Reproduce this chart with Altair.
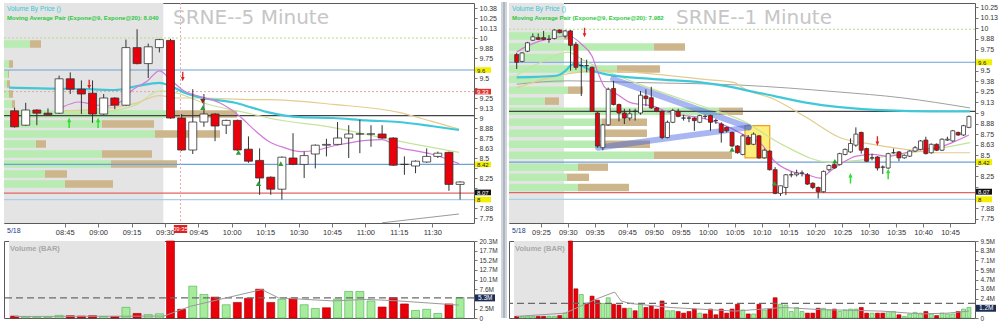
import altair as alt
import pandas as pd

FONT = "Liberation Sans"

# ============ LEFT PANEL : SRNE 5 minute ============
L_title = "SRNE--5 Minute"
L_legend = "Moving Average Pair (Expone@9, Expone@20): 8.040"
L_times = ("08:20 08:25 08:30 08:35 08:40 08:45 08:50 08:55 09:00 09:05 09:10 09:15 09:20 09:25 "
           "09:30 09:35 09:40 09:45 09:50 09:55 10:00 10:05 10:10 10:15 10:20 10:25 10:30 10:35 "
           "10:40 10:45 10:50 10:55 11:00 11:05 11:10 11:15 11:20 11:25 11:30 11:35 11:40").split()
L_open = [9.09, 8.91, 9.10, 9.06, 9.06, 9.49, 9.36, 9.31, 9.05, 9.25,
          9.16, 9.88, 9.68, 9.88, 9.97, 9.00, 8.60, 8.95, 9.05, 8.91,
          8.97, 8.61, 8.47, 8.26, 8.11, 8.50, 8.42, 8.55, 8.66, 8.67,
          8.75, 8.80, 8.80, 8.80, 8.75, 8.42, 8.40, 8.45, 8.52, 8.57, 8.17]
L_high = [9.13, 9.19, 9.11, 9.12, 9.53, 9.57, 9.47, 9.47, 9.30, 9.26,
          9.98, 10.11, 9.93, 9.99, 9.99, 9.05, 9.36, 9.30, 9.06, 8.98,
          8.98, 8.77, 8.62, 8.27, 8.52, 8.81, 8.58, 8.67, 8.74, 8.95,
          8.91, 8.98, 8.91, 8.91, 8.76, 8.52, 8.47, 8.62, 8.58, 8.58, 8.21]
L_low = [8.88, 8.90, 8.91, 9.03, 9.05, 9.30, 9.05, 8.94, 9.04, 9.11,
         9.15, 9.67, 9.50, 9.82, 8.99, 8.59, 8.55, 8.89, 8.71, 8.80,
         8.59, 8.44, 8.04, 8.04, 7.98, 8.41, 8.25, 8.37, 8.52, 8.66,
         8.50, 8.56, 8.64, 8.74, 8.40, 8.29, 8.31, 8.44, 8.50, 8.09, 7.98]
L_close = [8.89, 9.10, 9.06, 9.04, 9.49, 9.36, 9.30, 9.05, 9.25, 9.16,
           9.88, 9.68, 9.89, 9.98, 9.00, 8.60, 8.95, 9.05, 8.90, 8.97,
           8.60, 8.46, 8.25, 8.11, 8.51, 8.42, 8.53, 8.66, 8.67, 8.75,
           8.80, 8.80, 8.80, 8.75, 8.41, 8.42, 8.46, 8.52, 8.56, 8.17, 8.20]
L_vol = [0.5, 0.3, 0.2, 0.2, 0.7, 0.6, 0.5, 0.6, 0.4, 0.4,
         2.8, 1.2, 0.9, 1.1, 20.3, 2.3, 8.4, 6.2, 5.5, 3.5,
         4.1, 5.2, 7.6, 4.1, 4.9, 5.2, 3.5, 2.5, 2.7, 5.0,
         7.0, 7.0, 4.5, 2.9, 5.4, 3.7, 2.0, 2.3, 1.2, 3.7, 5.4]
L_vol_dir = ("d u u u u d d d u d u d u u d d u u d u "
             "d d d d u d u u d u u u u d d d u u u d u").split()
L_vol_avg = 5.3
L_vol_box = [5.3, "5.3M"]
L_vol_ma = [[0.5, 0.4], [13.9, 0.5], [16.3, 3.1], [22.7, 7.5], [24.2, 5.3], [29.1, 4.5],
            [32.1, 4.9], [35.0, 4.5], [40.4, 3.4]]
L_tick_labels = ["08:45", "09:00", "09:15", "09:30", "09:45", "10:00", "10:15", "10:30",
                 "10:45", "11:00", "11:15", "11:30"]
L_price_ticks = [7.75, 7.875, 8.0, 8.125, 8.25, 8.375, 8.5, 8.625, 8.75, 8.875, 9.0, 9.125,
                 9.25, 9.375, 9.5, 9.625, 9.75, 9.875, 10.0, 10.125, 10.25, 10.375]
L_price_hidden = [9.625, 9.375, 8.375, 8.125, 8.0]
L_vol_ticks = [0, 2.5, 5.1, 7.6, 10.1, 12.7, 15.2, 17.7, 20.3]
L_vol_hidden = [5.1]
L_vbp_price = [8.175, 8.30, 8.425, 8.55, 8.675, 8.80, 8.925, 9.05, 9.175, 9.30, 9.425, 9.55, 9.675, 9.925]
L_vbp_buy = [61, 41, 107, 98, 32, 151, 98, 170, 8, 5, 3, 4, 5, 26]
L_vbp_sell = [48, 22, 66, 50, 10, 65, 52, 63, 3, 4, 3, 1, 4, 11]
L_ma_cyan = [[0, 9.38], [2.8, 9.37], [7.2, 9.36], [9.5, 9.35], [11.5, 9.40], [13.5, 9.44], [14.5, 9.40],
             [15.7, 9.32], [17.4, 9.25], [20.3, 9.19], [21.8, 9.13], [23.3, 9.07], [26.2, 9.01],
             [29.1, 9.00], [32.1, 8.97], [35, 8.95], [37.9, 8.90], [40.4, 8.85]]
L_ma_pink = [[4.7, 9.13], [6.3, 9.20], [7.2, 9.18], [8.7, 9.15], [10.1, 9.21], [11, 9.34], [12.4, 9.46],
             [13.5, 9.59], [14.5, 9.48], [15.7, 9.34], [17.4, 9.26], [18.9, 9.19], [20.9, 9.00],
             [21.8, 8.88], [23.3, 8.71], [24.7, 8.63], [26.2, 8.58], [27.7, 8.60], [29.1, 8.65],
             [30.6, 8.69], [32.1, 8.72], [33.5, 8.73], [35, 8.63], [36.5, 8.59], [37.9, 8.55], [40.4, 8.43]]
L_ma_tan = [[4.9, 9.09], [8.7, 9.12], [11.5, 9.19], [13.5, 9.28], [15.1, 9.25], [17.4, 9.25], [21.8, 9.23],
            [23.3, 9.23], [29.1, 9.17], [35, 9.07], [37.9, 8.96], [40.4, 8.86]]
L_ma_green = [[4.9, 9.05], [8.7, 9.08], [11.5, 9.17], [13.5, 9.34], [15.1, 9.31], [17.4, 9.19],
              [21.8, 9.05], [23.3, 9.00], [29.1, 8.88], [35, 8.71], [40.4, 8.57]]
L_ma_grey = [[33.5, 7.69], [40.4, 7.80]]
L_levels = [9.6, 9.03, 8.42, 8.06, 7.98]
L_dotted = [10.0, 9.33]
L_boxes = [[9.6, "9.6"], [9.33, "9.33"], [8.42, "8.42"], [8.07, "8.07"], [7.98, "8"]]
L_box_kind = ["yellow", "red", "yellow", "black", "yellow"]
L_up_arrows = [[5.4, 8.94], [8.0, 8.94]]
L_down_arrows = [[7.2, 9.42], [15.6, 9.52]]
L_tri_up = [[17.4, 9.13], [20.6, 8.57], [22.4, 8.18], [24.4, 8.43]]
L_tri_down = [[17.4, 9.21]]
L_cursor = 15.4
L_cursor_label = "09:35"

# ============ RIGHT PANEL : SRNE 1 minute ============
R_title = "SRNE--1 Minute"
R_legend = "Moving Average Pair (Expone@9, Expone@20): 7.982"
R_times = ("09:20 09:21 09:22 09:23 09:24 09:25 09:26 09:27 09:28 09:29 09:30 09:31 09:32 09:33 09:34 09:35 "
           "09:37 09:39 09:41 09:42 09:44 "
           "09:45 09:46 09:47 09:48 09:49 09:50 09:51 09:52 09:53 09:54 09:55 09:56 09:57 09:58 09:59 "
           "10:00 10:01 10:02 10:03 10:04 10:05 10:06 10:07 10:08 10:09 10:10 10:11 10:12 10:13 10:14 "
           "10:15 10:16 10:17 10:18 10:19 10:20 10:21 10:22 10:23 10:24 10:25 10:26 10:27 10:28 10:29 "
           "10:30 10:31 10:32 10:33 10:34 10:35 10:36 10:37 10:38 10:39 10:40 10:41 10:42 10:43 10:44 "
           "10:45 10:46 10:47 10:48").split()
R_open = [9.69, 9.61, 9.73, 9.86, 9.89, 9.89, 9.87, 9.88, 9.98, 9.91,
          9.97, 9.81, 9.56, 9.56, 9.54, 9.00, 8.59, 8.86, 9.29, 9.10,
          9.00, 8.94, 9.02, 9.00, 9.20, 9.18, 9.06, 9.02, 8.71, 8.89,
          9.02, 8.94, 8.94, 8.94, 8.89, 8.96, 8.97, 8.91, 8.87, 8.83,
          8.77, 8.61, 8.51, 8.71, 8.63, 8.73, 8.47, 8.55, 8.33, 8.05,
          8.12, 8.27, 8.27, 8.29, 8.27, 8.17, 8.12, 8.07, 8.33, 8.39,
          8.39, 8.51, 8.54, 8.62, 8.77, 8.58, 8.47, 8.48, 8.36, 8.35,
          8.53, 8.54, 8.47, 8.49, 8.55, 8.57, 8.68, 8.53, 8.63, 8.56,
          8.68, 8.67, 8.77, 8.74, 8.83]
R_high = [9.71, 9.72, 9.84, 9.94, 9.94, 9.97, 9.92, 9.99, 9.99, 9.98,
          9.98, 9.84, 9.65, 9.63, 9.55, 9.01, 8.87, 9.30, 9.38, 9.11,
          9.05, 9.05, 9.05, 9.26, 9.28, 9.31, 9.07, 9.03, 8.91, 9.05,
          9.05, 8.98, 8.96, 8.95, 8.98, 8.98, 8.98, 8.93, 8.89, 8.84,
          8.78, 8.62, 8.75, 8.74, 8.77, 8.74, 8.58, 8.56, 8.36, 8.14,
          8.28, 8.31, 8.33, 8.32, 8.29, 8.18, 8.13, 8.32, 8.39, 8.41,
          8.53, 8.58, 8.70, 8.83, 8.78, 8.59, 8.52, 8.49, 8.38, 8.53,
          8.58, 8.55, 8.51, 8.56, 8.61, 8.68, 8.72, 8.64, 8.64, 8.70,
          8.72, 8.80, 8.78, 8.86, 8.97]
R_low = [9.52, 9.60, 9.72, 9.85, 9.86, 9.86, 9.83, 9.87, 9.94, 9.89,
         9.50, 9.51, 9.20, 9.48, 9.02, 8.59, 8.56, 8.85, 9.09, 8.90,
         8.87, 8.91, 8.91, 8.98, 9.08, 9.05, 9.01, 8.69, 8.70, 8.88,
         8.95, 8.91, 8.89, 8.79, 8.88, 8.93, 8.79, 8.87, 8.65, 8.77,
         8.60, 8.52, 8.50, 8.62, 8.62, 8.46, 8.46, 8.32, 8.04, 8.02,
         8.03, 8.24, 8.25, 8.25, 8.15, 8.10, 7.99, 8.06, 8.31, 8.34,
         8.38, 8.50, 8.53, 8.60, 8.52, 8.42, 8.44, 8.32, 8.28, 8.34,
         8.52, 8.43, 8.46, 8.48, 8.54, 8.56, 8.51, 8.52, 8.55, 8.55,
         8.67, 8.66, 8.73, 8.73, 8.82]
R_close = [9.60, 9.71, 9.83, 9.90, 9.87, 9.87, 9.87, 9.98, 9.95, 9.97,
           9.80, 9.54, 9.56, 9.56, 9.02, 8.61, 8.86, 9.28, 9.10, 9.00,
           8.94, 8.99, 9.02, 9.21, 9.17, 9.06, 9.02, 8.71, 8.89, 9.03,
           8.96, 8.94, 8.94, 8.91, 8.97, 8.96, 8.89, 8.91, 8.77, 8.79,
           8.61, 8.53, 8.73, 8.63, 8.75, 8.47, 8.56, 8.33, 8.05, 8.14,
           8.27, 8.27, 8.29, 8.29, 8.16, 8.12, 8.07, 8.31, 8.38, 8.35,
           8.52, 8.57, 8.64, 8.75, 8.56, 8.43, 8.47, 8.35, 8.36, 8.52,
           8.53, 8.47, 8.50, 8.55, 8.59, 8.67, 8.52, 8.63, 8.56, 8.69,
           8.69, 8.79, 8.74, 8.85, 8.96]
R_vol = [0.2, 0.2, 0.2, 0.2, 0.2, 0.2, 0.2, 0.2, 0.3, 0.6,
         9.5, 3.6, 2.9, 1.8, 2.7, 2.2, 1.8, 2.5, 1.7, 1.6,
         1.2, 1.2, 0.9, 1.7, 1.3, 1.5, 1.1, 2.1, 0.9, 0.9,
         0.8, 0.6, 0.8, 1.1, 0.6, 0.5, 1.1, 0.4, 1.1, 0.6,
         1.1, 1.7, 1.0, 0.5, 0.5, 1.7, 1.0, 1.1, 2.5, 1.7,
         1.6, 0.8, 1.3, 0.8, 0.6, 0.6, 1.2, 1.2, 1.0, 1.1,
         0.8, 1.0, 1.1, 1.1, 1.3, 0.6, 0.6, 0.6, 0.6, 0.8,
         0.8, 0.4, 0.2, 0.5, 0.7, 0.6, 0.8, 0.5, 0.3, 0.6,
         0.5, 0.5, 0.8, 1.1, 1.3]
R_vol_dir = ("d u u u d d u u d u  d d u d d d u u d d  d u d u d d d d u u  "
             "d d d d u d d d d d  d d u d u d u d d u  u u u u d d d u u d  "
             "u u u u d d u d d u  u d u u u u d u d u  u u d u u").split()
R_vol_avg = 1.8
R_vol_box = [1.2, "1.2M"]
R_vol_ma = [[0.5, 0.2], [9.5, 0.6], [12.5, 1.5], [15.5, 2.4], [18.7, 3.2], [19.9, 2.1], [21.5, 1.8],
            [29.0, 1.3], [41.1, 0.85], [50.2, 1.3], [56.3, 1.05], [68.4, 0.85], [75.5, 0.5],
            [80.5, 0.6], [84.5, 0.85]]
R_tick_labels = ["09:25", "09:30", "09:35", "09:45", "09:50", "09:55", "10:00", "10:05", "10:10",
                 "10:15", "10:20", "10:25", "10:30", "10:35", "10:40", "10:45"]
R_price_ticks = [7.75, 7.875, 8.0, 8.125, 8.25, 8.375, 8.5, 8.625, 8.75, 8.875, 9.0, 9.125,
                 9.25, 9.375, 9.5, 9.625, 9.75, 9.875, 10.0, 10.125, 10.25]
R_price_hidden = [9.625, 8.375, 8.125, 8.0]
R_vol_ticks = [0, 1.2, 2.4, 3.6, 4.7, 5.9, 7.1, 8.3, 9.5]
R_vol_hidden = [1.2]
R_vbp_price = [8.12, 8.24, 8.36, 8.50, 8.63, 8.76, 8.89, 9.02, 9.14, 9.27, 9.40, 9.52, 9.655, 9.78, 9.91]
R_vbp_buy = [69, 58, 69, 145, 93, 93, 93, 210, 36, 59, 55, 108, 55, 145, 55]
R_vbp_sell = [51, 22, 30, 78, 48, 45, 45, 24, 14, 15, 0, 43, 0, 31, 8]
R_ma_grey = [[0.5, 9.34], [10, 9.38], [23, 9.36], [42, 9.33], [60, 9.25], [72, 9.18], [84.7, 9.06]]
R_ma_cyan = [[0.5, 9.42], [7.8, 9.44], [9.6, 9.50], [10.5, 9.56], [11.4, 9.58], [14.5, 9.50],
             [16.9, 9.46], [26, 9.40], [35, 9.36], [41, 9.30], [42.4, 9.28], [48.4, 9.20],
             [54.5, 9.12], [60.5, 9.07], [69.6, 9.03], [77.5, 9.02], [84.7, 9.02]]
R_ma_pink = [[0.5, 9.72], [2.4, 9.79], [6, 9.87], [10.2, 9.91], [12.6, 9.81], [14.5, 9.67],
             [15.7, 9.46], [16.9, 9.30], [18.7, 9.24], [21.8, 9.12], [26, 9.08], [29, 9.00],
             [35, 8.94], [40, 8.83], [42.4, 8.75], [46, 8.63], [48.4, 8.43], [51.5, 8.31],
             [54.5, 8.27], [56.9, 8.23], [58.7, 8.31], [60.5, 8.39], [63.6, 8.49], [66.6, 8.51],
             [69.6, 8.49], [72.7, 8.53], [75.6, 8.57], [78.7, 8.59], [81.8, 8.66], [84.5, 8.74]]
R_ma_tan = [[0.5, 9.30], [9.6, 9.46], [16.9, 9.50], [26, 9.46], [35, 9.40], [41, 9.36], [42.4, 9.30],
            [48.4, 9.16], [54.5, 8.94], [60.5, 8.71], [66.6, 8.63], [72.7, 8.57], [78.7, 8.53], [84.7, 8.53]]
R_ma_green = [[0.5, 9.45], [5, 9.60], [10, 9.72], [13, 9.62], [17, 9.50], [25, 9.30], [35, 9.08],
              [42.4, 8.91], [50, 8.62], [58.5, 8.42], [64, 8.44], [70, 8.50], [78, 8.57], [84.7, 8.65]]
R_levels = [9.6, 9.02, 8.42, 8.06, 7.98]
R_dotted = [9.99]
R_boxes = [[9.6, "9.6"], [8.42, "8.42"], [8.07, "8.07"], [7.98, "8"]]
R_box_kind = ["yellow", "yellow", "black", "yellow"]
R_up_arrows = [[62.5, 8.23], [69.5, 8.28]]
R_down_arrows = [[13.1, 9.95], [67.5, 8.67]]
R_tri_up = [[40.5, 8.57], [59.6, 8.43], [48.4, 8.17]]
R_tri_down = []
R_pattern_upper = [[18.4, 9.40], [43.6, 8.83]]
R_pattern_lower = [[15.6, 8.59], [43.6, 8.83]]
R_highlight = [42.9, 47.5, 8.47, 8.85]

LEVEL_COLORS = ["#6aa2d8", "#444444", "#6aa2d8", "#e06666", "#a8d0ee"]
DOT_COLORS = ["#b9d98f", "#eba3a3"]
BOX_FILL = {"yellow": "#f2f000", "red": "#e03030", "black": "#111111"}
BOX_TEXT = {"yellow": "#222222", "red": "#ffffff", "black": "#ffffff"}

PH = 220
VH = 77


def line_df(series):
    rows = []
    for name, col, sw, pts in series:
        for x, y in pts:
            rows.append({"series": name, "pos": x, "val": y, "col": col, "sw": sw})
    return pd.DataFrame(rows)


def hide_expr(hidden, fallback):
    return ("indexof([" + ",".join(str(v) for v in hidden) + "], datum.value) >= 0 ? '' : " + fallback)


def price_panel(P):
    W = P["W"]
    xs = alt.Scale(domain=[0, P["xmax"]], nice=False, zero=False)
    ys = alt.Scale(domain=P["ydom"], nice=False, zero=False)
    times = P["times"]
    tick_pos = [times.index(t) for t in P["tick_labels"]]
    lbl = ("[" + ",".join("'%s'" % t for t in P["tick_labels"]) + "][indexof(["
           + ",".join(str(p) for p in tick_pos) + "], datum.value)]")
    xaxis = alt.Axis(values=tick_pos, labelExpr=lbl, title=None, tickSize=4, labelPadding=1,
                     labelFontSize=7.5, labelOverlap=False, labelFlush=False, domain=False, grid=False)
    yaxis = alt.Axis(values=P["yticks"], format=".2~f", labelExpr=hide_expr(P["yhidden"], "datum.label"),
                     orient="right", title=None, tickSize=3,
                     labelPadding=2, labelFontSize=7, labelOverlap=False, labelFlush=False,
                     domain=False, grid=False)

    def X(f):
        return alt.X(f, scale=xs, axis=xaxis)

    def Y(f):
        return alt.Y(f, scale=ys, axis=yaxis)

    n = len(times)
    o, h, l, c = P["open"], P["high"], P["low"], P["close"]
    cdf = pd.DataFrame({"pos": [i + 0.5 for i in range(n)], "open": o, "high": h, "low": l, "close": c,
                        "time": times})
    cdf["col"] = ["#ffffff" if cc >= oo else "#e8000b" for oo, cc in zip(o, c)]

    bg = alt.Chart(pd.DataFrame({"x0": [0], "x1": [times.index("09:30")]})).mark_rect(
        color="#e4e4e4").encode(
        x=alt.X("x0:Q", scale=xs, axis=None), x2="x1:Q", y=alt.value(0), y2=alt.value(PH))

    rows = []
    for p, b, s in zip(P["vbp_price"], P["vbp_buy"], P["vbp_sell"]):
        rows.append({"start": 0, "end": b, "lo": p - P["vbp_half"], "hi": p + P["vbp_half"], "col": "#b8ecb3"})
        if s > 0:
            rows.append({"start": b, "end": b + s, "lo": p - P["vbp_half"], "hi": p + P["vbp_half"],
                         "col": "#cdb68c"})
    vbp = alt.Chart(pd.DataFrame(rows)).mark_rect().encode(
        x=alt.X("start:Q", scale=alt.Scale(domain=[0, W], nice=False, zero=False), axis=None),
        x2="end:Q", y=Y("lo:Q"), y2="hi:Q", color=alt.Color("col:N", scale=None))

    layers = []
    lev = pd.DataFrame({"price": P["levels"], "col": LEVEL_COLORS[:len(P["levels"])]})
    layers.append(alt.Chart(lev).mark_rule(strokeWidth=1.2).encode(
        y=Y("price:Q"), color=alt.Color("col:N", scale=None)))
    if P["dotted"]:
        dot = pd.DataFrame({"price": P["dotted"], "col": DOT_COLORS[:len(P["dotted"])]})
        layers.append(alt.Chart(dot).mark_rule(strokeWidth=1, strokeDash=[2, 2]).encode(
            y=Y("price:Q"), color=alt.Color("col:N", scale=None)))
    if P.get("cursor") is not None:
        cur = pd.DataFrame({"pos": [P["cursor"]], "a": [P["cursor"] - 0.6], "b": [P["cursor"] + 0.6],
                            "t": [P["cursor_label"]]})
        layers.append(alt.Chart(cur).mark_rule(strokeDash=[2, 2], color="#f0a8a8").encode(x=X("pos:Q")))
        layers.append(alt.Chart(cur).mark_rect(color="#e02020").encode(
            x=X("a:Q"), x2="b:Q", y=alt.value(PH + 2), y2=alt.value(PH + 10)))
        layers.append(alt.Chart(cur).mark_text(color="white", fontSize=6, font=FONT).encode(
            x=X("pos:Q"), y=alt.value(PH + 6), text="t:N"))

    if P.get("highlight"):
        a, b, lo, hi = P["highlight"]
        hl = pd.DataFrame({"a": [a], "b": [b], "lo": [lo], "hi": [hi]})
        layers.append(alt.Chart(hl).mark_rect(color="#ffe94d", opacity=0.75).encode(
            x=X("a:Q"), x2="b:Q", y=Y("lo:Q"), y2="hi:Q"))
        layers.append(alt.Chart(hl).mark_rect(fill=None, stroke="#f0a020", strokeWidth=1.2).encode(
            x=X("a:Q"), x2="b:Q", y=Y("lo:Q"), y2="hi:Q"))

    mdf = line_df(P["ma"])
    layers.append(alt.Chart(mdf).mark_line(interpolate="monotone", clip=True).encode(
        x=X("pos:Q"), y=Y("val:Q"), detail="series:N", color=alt.Color("col:N", scale=None),
        strokeWidth=alt.StrokeWidth("sw:Q", scale=None)))

    if P.get("pattern"):
        pdf = line_df([("u", "#3f5fe0", 6, P["pattern"][0]), ("l", "#3f5fe0", 6, P["pattern"][1])])
        layers.append(alt.Chart(pdf).mark_line(opacity=0.45, strokeCap="round").encode(
            x=X("pos:Q"), y=Y("val:Q"), detail="series:N", color=alt.Color("col:N", scale=None),
            strokeWidth=alt.StrokeWidth("sw:Q", scale=None)))

    layers.append(alt.Chart(cdf).mark_rule(color="#333333", strokeWidth=1).encode(
        x=X("pos:Q"), y=Y("low:Q"), y2="high:Q"))
    layers.append(alt.Chart(cdf).mark_bar(size=P["bsize"], stroke="#333333", strokeWidth=0.8).encode(
        x=X("pos:Q"), y=Y("open:Q"), y2="close:Q", color=alt.Color("col:N", scale=None)))

    if P["up_arrows"]:
        ua = pd.DataFrame(P["up_arrows"], columns=["pos", "val"])
        layers.append(alt.Chart(ua).mark_point(shape="arrow", filled=True, size=110, color="#33dd33",
                                               opacity=1).encode(x=X("pos:Q"), y=Y("val:Q")))
    if P["down_arrows"]:
        da = pd.DataFrame(P["down_arrows"], columns=["pos", "val"])
        layers.append(alt.Chart(da).mark_point(shape="arrow", filled=True, size=90, color="#e02525",
                                               angle=180, opacity=1).encode(x=X("pos:Q"), y=Y("val:Q")))
    if P["tri_up"]:
        tu = pd.DataFrame(P["tri_up"], columns=["pos", "val"])
        layers.append(alt.Chart(tu).mark_point(shape="triangle-up", filled=True, size=28, color="#2e9e3a",
                                               opacity=1).encode(x=X("pos:Q"), y=Y("val:Q")))
    if P["tri_down"]:
        td = pd.DataFrame(P["tri_down"], columns=["pos", "val"])
        layers.append(alt.Chart(td).mark_point(shape="triangle-down", filled=True, size=28, color="#a01818",
                                               opacity=1).encode(x=X("pos:Q"), y=Y("val:Q")))

    bx = pd.DataFrame(P["boxes"], columns=["price", "t"])
    bx["fill"] = [BOX_FILL[k] for k in P["box_kind"]]
    bx["tc"] = [BOX_TEXT[k] for k in P["box_kind"]]
    bx["lo"] = bx["price"] - 0.035
    bx["hi"] = bx["price"] + 0.035
    layers.append(alt.Chart(bx).mark_rect().encode(
        x=alt.value(W + 1), x2=alt.value(W + 17), y=Y("lo:Q"), y2="hi:Q",
        color=alt.Color("fill:N", scale=None)))
    layers.append(alt.Chart(bx).mark_text(align="left", baseline="middle", fontSize=6, dy=0.8,
                                          font=FONT).encode(
        x=alt.value(W + 3), y=Y("price:Q"), text="t:N", color=alt.Color("tc:N", scale=None)))

    txt = pd.DataFrame({"t": [P["title"], "Volume By Price ()", P["legend"], "5/18"],
                        "k": ["title", "vbp", "ma", "date"]})
    layers.append(alt.Chart(txt).transform_filter("datum.k == 'title'").mark_text(
        fontSize=20, font="DejaVu Sans", color="#c6c6c6", align="center", baseline="middle").encode(
        x=alt.value(W / 2 + 12), y=alt.value(15), text="t:N"))
    layers.append(alt.Chart(txt).transform_filter("datum.k == 'vbp'").mark_text(
        fontSize=6.5, font=FONT, color="#35c6d6", align="left", baseline="middle").encode(
        x=alt.value(3), y=alt.value(6), text="t:N"))
    layers.append(alt.Chart(txt).transform_filter("datum.k == 'ma'").mark_text(
        fontSize=6, font=FONT, fontWeight="bold", color="#2ec83e", align="left", baseline="middle").encode(
        x=alt.value(3), y=alt.value(15), text="t:N"))
    layers.append(alt.Chart(txt).transform_filter("datum.k == 'date'").mark_text(
        fontSize=7, font=FONT, color="#1a3a8a", align="left", baseline="middle").encode(
        x=alt.value(3), y=alt.value(PH + 8), text="t:N"))

    if P.get("separator"):
        sep = pd.DataFrame({"a": [0]})
        layers.append(alt.Chart(sep).mark_rect(color="#d0d5dc").encode(
            x=alt.value(-8), x2=alt.value(-2), y=alt.value(-1), y2=alt.value(PH + 18 + VH)))
        layers.append(alt.Chart(sep).mark_rule(color="#8a96a8", strokeWidth=1).encode(
            x=alt.value(-5), y=alt.value(-1), y2=alt.value(PH + 18 + VH)))

    main = alt.layer(*layers)
    return alt.layer(bg, vbp, main).resolve_scale(x="independent").properties(width=W, height=PH)


def vol_panel(P):
    W = P["W"]
    xs = alt.Scale(domain=[0, P["xmax"]], nice=False, zero=False)
    ys = alt.Scale(domain=[0, P["vmax"]], nice=False, zero=True)
    yaxis = alt.Axis(values=P["vticks"], format=".1f",
                     labelExpr=hide_expr(P["vhidden"], "(datum.value == 0 ? '0' : datum.label + 'M')"),
                     orient="right", title=None,
                     tickSize=3, labelPadding=2, labelFontSize=6.5, labelOverlap=False, labelFlush=False,
                     domain=False, grid=False)

    def X(f):
        return alt.X(f, scale=xs, axis=None)

    def Y(f):
        return alt.Y(f, scale=ys, axis=yaxis)

    times = P["times"]
    n = len(times)
    vdf = pd.DataFrame({"pos": [i + 0.5 for i in range(n)], "vol": P["vol"]})
    vdf["col"] = ["#a6ec9c" if d == "u" else "#e8000b" for d in P["vdir"]]
    vdf["scol"] = ["#4caf50" if d == "u" else "#a00000" for d in P["vdir"]]

    bg = alt.Chart(pd.DataFrame({"x0": [0], "x1": [times.index("09:30")]})).mark_rect(
        color="#e4e4e4").encode(x=X("x0:Q"), x2="x1:Q", y=alt.value(0), y2=alt.value(VH))
    bars = alt.Chart(vdf).mark_bar(size=P["bsize"], strokeWidth=0.6).encode(
        x=X("pos:Q"), y=Y("vol:Q"), color=alt.Color("col:N", scale=None),
        stroke=alt.Stroke("scol:N", scale=None))
    avg = alt.Chart(pd.DataFrame({"v": [P["avg"]]})).mark_rule(
        strokeDash=[7, 4], color="#6a6a6a", strokeWidth=1.3).encode(y=Y("v:Q"))
    ma = alt.Chart(pd.DataFrame(P["vma"], columns=["pos", "v"])).mark_line(
        color="#9a9a9a", strokeWidth=1).encode(x=X("pos:Q"), y=Y("v:Q"))
    lab = alt.Chart(pd.DataFrame({"t": ["Volume (BAR)"]})).mark_text(
        fontSize=7.5, font=FONT, color="#a8a8a8", fontWeight="bold", align="left", baseline="middle").encode(
        x=alt.value(6), y=alt.value(8), text="t:N")
    lvl, btext = P["vbox"]
    box = pd.DataFrame({"v": [lvl], "lo": [lvl - P["vmax"] * 0.045],
                        "hi": [lvl + P["vmax"] * 0.045], "t": [btext]})
    brect = alt.Chart(box).mark_rect(color="#1c2c52").encode(
        x=alt.value(W + 1), x2=alt.value(W + 21), y=Y("lo:Q"), y2="hi:Q")
    btxt = alt.Chart(box).mark_text(color="white", fontSize=6.5, font=FONT, align="left",
                                    baseline="middle").encode(x=alt.value(W + 4), y=Y("v:Q"), text="t:N")
    return alt.layer(bg, bars, avg, ma, lab, brect, btxt).properties(width=W, height=VH)


LP = dict(W=470, xmax=41.3, ydom=[7.6875, 10.4375], times=L_times, tick_labels=L_tick_labels,
          yticks=L_price_ticks, yhidden=L_price_hidden, open=L_open, high=L_high, low=L_low, close=L_close,
          vbp_price=L_vbp_price, vbp_buy=L_vbp_buy, vbp_sell=L_vbp_sell, vbp_half=0.047,
          levels=L_levels, dotted=L_dotted, cursor=L_cursor, cursor_label=L_cursor_label,
          ma=[("green", "#c5e49a", 1.2, L_ma_green), ("tan", "#e3cc8e", 1.2, L_ma_tan),
              ("cyan", "#40c8d8", 2.2, L_ma_cyan), ("pink", "#d27ad8", 1.2, L_ma_pink),
              ("grey", "#9a9a9a", 1, L_ma_grey)],
          bsize=8, up_arrows=L_up_arrows, down_arrows=L_down_arrows, tri_up=L_tri_up, tri_down=L_tri_down,
          boxes=L_boxes, box_kind=L_box_kind, title=L_title, legend=L_legend,
          vol=L_vol, vdir=L_vol_dir, vmax=20.3, vticks=L_vol_ticks, vhidden=L_vol_hidden,
          avg=L_vol_avg, vbox=L_vol_box, vma=L_vol_ma)
RP = dict(W=466, xmax=84.7, ydom=[7.70, 10.30], times=R_times, tick_labels=R_tick_labels,
          yticks=R_price_ticks, yhidden=R_price_hidden, open=R_open, high=R_high, low=R_low, close=R_close,
          vbp_price=R_vbp_price, vbp_buy=R_vbp_buy, vbp_sell=R_vbp_sell, vbp_half=0.044,
          levels=R_levels, dotted=R_dotted, cursor=None, highlight=R_highlight,
          pattern=[R_pattern_upper, R_pattern_lower], separator=True,
          ma=[("grey", "#a0a0a0", 1, R_ma_grey), ("green", "#c5e49a", 1.2, R_ma_green),
              ("tan", "#e3cc8e", 1.2, R_ma_tan), ("cyan", "#40c8d8", 2.2, R_ma_cyan),
              ("pink", "#d27ad8", 1.2, R_ma_pink)],
          bsize=4, up_arrows=R_up_arrows, down_arrows=R_down_arrows, tri_up=R_tri_up, tri_down=R_tri_down,
          boxes=R_boxes, box_kind=R_box_kind, title=R_title, legend=R_legend,
          vol=R_vol, vdir=R_vol_dir, vmax=9.5, vticks=R_vol_ticks, vhidden=R_vol_hidden,
          avg=R_vol_avg, vbox=R_vol_box, vma=R_vol_ma)

chart = alt.concat(
    price_panel(LP), price_panel(RP), vol_panel(LP), vol_panel(RP),
    columns=2, spacing={"row": 18, "column": 35}, bounds="flush", align="each"
).properties(
    padding={"left": 2, "top": 1, "right": 0, "bottom": 0}, background="white"
).configure_view(stroke="#5a5a5a", strokeWidth=1).configure_axis(
    labelFont=FONT, labelColor="#333333", tickColor="#777777", domainColor="#777777")

chart.save("out.html", embed_options={"renderer": "svg", "actions": False})
